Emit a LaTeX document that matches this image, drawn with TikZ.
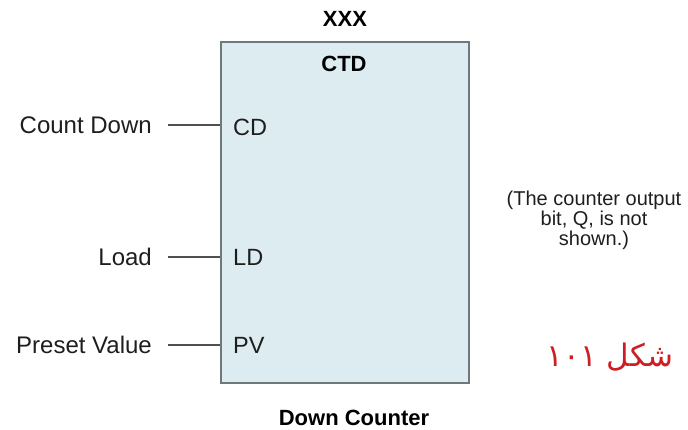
\documentclass[tikz,border=0pt]{standalone}
\usepackage{fontspec}
\setmainfont{Liberation Sans}
\newfontfamily\arabicfont[Script=Arabic]{DejaVu Sans}
\TeXXeTstate=1
\definecolor{boxfill}{RGB}{221,236,240}
\definecolor{boxedge}{RGB}{112,120,122}
\definecolor{wirec}{RGB}{80,80,80}
\definecolor{txtc}{RGB}{30,30,30}
\definecolor{figred}{RGB}{205,30,35}
\begin{document}
\begin{tikzpicture}[x=1pt,y=-1pt,
  lbl/.style={font=\fontsize{24}{26}\selectfont, text=txtc, inner sep=0pt},
  pinlbl/.style={font=\fontsize{23.5}{26}\selectfont, text=txtc, inner sep=0pt, anchor=west},
  ttl/.style={font=\fontsize{22}{24}\selectfont\bfseries, text=black, inner sep=0pt},
  note/.style={font=\fontsize{20}{20}\selectfont, text=txtc, align=center, inner sep=0pt},
  wire/.style={draw=wirec, line width=1.4pt},
  blk/.style={draw=boxedge, fill=boxfill, line width=2pt, minimum width=248pt, minimum height=341pt, inner sep=0pt}
]
\useasboundingbox (0,0) rectangle (688,430);
\node[blk] (box) at (345,212.5) {};
\node[ttl] (inst) at (345,19) {XXX};
\node[ttl] (ctd) at (344,64) {CTD};
\node[ttl] (cap) at (354,418) {Down Counter};
% pins
\node[pinlbl] (cd) at (233,127) {CD};
\node[pinlbl] (ld) at (233,257) {LD};
\node[pinlbl] (pv) at (233,345) {PV};
% input labels (east anchor at wire start)
\node[lbl, anchor=east, inner xsep=16pt] (cdin) at (168,125) {Count Down};
\node[lbl, anchor=east, inner xsep=16pt] (ldin) at (168,257) {Load};
\node[lbl, anchor=east, inner xsep=16pt] (pvin) at (168,345) {Preset Value};
\draw[wire] (cdin.east) -- (cdin.east -| box.west);
\draw[wire] (ldin.east) -- (ldin.east -| box.west);
\draw[wire] (pvin.east) -- (pvin.east -| box.west);
% note
\node[note] (nt) at (594,220) {(The counter output\\bit, Q, is not\\shown.)};
% figure label
\node[inner sep=0pt, text=figred, font=\fontsize{31}{33}\selectfont] (fig) at (610,357) {\arabicfont\beginR شکل ۱۰۱\endR};
\end{tikzpicture}
\end{document}
